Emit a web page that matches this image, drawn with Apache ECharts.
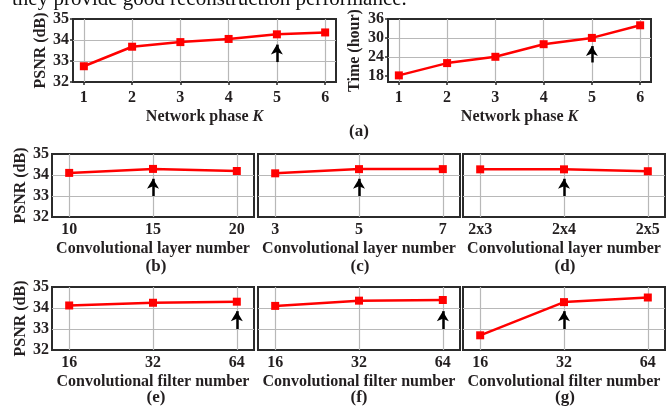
<!DOCTYPE html>
<html>
<head>
<meta charset="utf-8">
<script src="https://cdn.jsdelivr.net/npm/echarts@6/dist/echarts.min.js"></script>
<style>
html,body{margin:0;padding:0;background:#fff;}
#c{width:670px;height:408px;}
</style>
</head>
<body>
<div id="c"></div>
<script>
// ---- data ----
const phaseK = [1, 2, 3, 4, 5, 6];
const psnrPhase = [32.75, 33.68, 33.9, 34.05, 34.27, 34.36];
const timePhase = [18.1, 22.0, 24.0, 28.0, 30.0, 34.0];
const layerNumB = ['10', '15', '20'];
const psnrLayerB = [34.1, 34.29, 34.19];
const layerNumC = ['3', '5', '7'];
const psnrLayerC = [34.08, 34.28, 34.28];
const layerNumD = ['2x3', '2x4', '2x5'];
const psnrLayerD = [34.27, 34.27, 34.18];
const filterNum = ['16', '32', '64'];
const psnrFilterE = [34.12, 34.25, 34.3];
const psnrFilterF = [34.1, 34.35, 34.38];
const psnrFilterG = [32.7, 34.28, 34.5];
const psnrTicks = [32, 33, 34, 35];
const timeTicks = [18, 24, 30, 36];
// arrows: [x position (category index or K), from value, to value]
const arrowA1 = [5, 32.95, 33.78];
const arrowA2 = [5, 22.2, 27.4];
const arrowB = [1, 33.0, 33.82];
const arrowC = [1, 33.0, 33.82];
const arrowD = [1, 33.0, 33.82];
const arrowE = [2, 33.0, 33.85];
const arrowF = [2, 33.0, 33.85];
const arrowG = [1, 33.0, 33.85];
const subCaptions = ['(a)', '(b)', '(c)', '(d)', '(e)', '(f)', '(g)'];

const FONT = '"Liberation Serif", "Times New Roman", serif';
const TXT = '#231f20';
const FS = 16;

const chart = echarts.init(document.getElementById('c'), null, {renderer: 'canvas'});

const grids = [], xAxes = [], yAxes = [], series = [];

function addPanel(box, xVals, xLabels, yVals, yAxisCfg, xName, yName, arrow, opts) {
  const i = grids.length;
  grids.push({left: box[0], top: box[1], width: box[2], height: box[3], show: true,
    borderColor: '#2b2b2b', borderWidth: 2, backgroundColor: 'transparent', containLabel: false});
  const xmin = xVals[0] - opts.pad, xmax = xVals[xVals.length - 1] + opts.pad;
  xAxes.push({
    type: 'value', gridIndex: i, min: xmin, max: xmax,
    axisLine: {show: false},
    axisTick: {show: opts.ticks, length: 3, inside: false, customValues: xVals, lineStyle: {color: '#2b2b2b', width: 1.5}},
    axisLabel: {customValues: xVals, margin: opts.xMargin, fontFamily: FONT, fontWeight: 'bold', fontSize: FS, color: TXT,
      formatter: v => { const k = xVals.indexOf(v); return k >= 0 ? xLabels[k] : ''; }},
    splitLine: {show: true, lineStyle: {color: '#b8b8b8', width: 1.2}},
    name: xName, nameLocation: 'middle', nameGap: opts.xNameGap,
    nameTextStyle: {fontFamily: FONT, fontWeight: 'bold', fontSize: FS, color: TXT,
      rich: {i: {fontFamily: FONT, fontWeight: 'bold', fontStyle: 'italic', fontSize: FS, color: TXT}}}
  });
  yAxes.push(Object.assign({
    type: 'value', gridIndex: i,
    axisLine: {show: false},
    axisTick: {show: opts.ticks, length: 3, customValues: yAxisCfg.ticks, lineStyle: {color: '#2b2b2b', width: 1.5}},
    axisLabel: {show: yName !== null, customValues: yAxisCfg.ticks, margin: opts.yMargin, fontFamily: FONT, fontWeight: 'bold', fontSize: FS, color: TXT},
    splitLine: {show: true, showMinLine: false, showMaxLine: false, lineStyle: {color: '#b8b8b8', width: 1.2}},
    name: yName || '', nameLocation: 'middle', nameGap: opts.yNameGap, nameRotate: 90,
    nameTextStyle: {fontFamily: FONT, fontWeight: 'bold', fontSize: 16, color: TXT}
  }, {min: yAxisCfg.min, max: yAxisCfg.max}));
  series.push({
    type: 'line', xAxisIndex: i, yAxisIndex: i,
    data: xVals.map((x, k) => [x, yVals[k]]),
    symbol: 'rect', symbolSize: 8,
    lineStyle: {color: '#ff0000', width: 2.5},
    itemStyle: {color: '#ff0000'},
    animation: false, z: 3,
    markLine: {
      silent: true, animation: false, symbol: ['none', 'arrow'], symbolSize: [9, 10],
      label: {show: false},
      lineStyle: {color: '#000', width: 2.5, type: 'solid'},
      data: [[{coord: [arrow[0], arrow[1]]}, {coord: [arrow[0], arrow[2]]}]]
    }
  });
}

const idx3 = [0, 1, 2];
const psnrAxis = {min: 32, max: 35, ticks: psnrTicks};
const timeAxis = {min: 16, max: 36, ticks: timeTicks};
const topOpts = {pad: 0.225, ticks: true, xMargin: 8, xNameGap: 27, yMargin: 4, yNameGap: 20};
const midOpts = {pad: 0.205, ticks: false, xMargin: 5, xNameGap: 24, yMargin: 3, yNameGap: 22};

addPanel([73, 19, 263, 63], phaseK, phaseK.map(String), psnrPhase, psnrAxis, 'Network phase {i|K}', 'PSNR (dB)', arrowA1, topOpts);
addPanel([388, 19, 263, 63], phaseK, phaseK.map(String), timePhase, timeAxis, 'Network phase {i|K}', 'Time (hour)', arrowA2, Object.assign({}, topOpts, {yNameGap: 25}));

addPanel([52, 154, 202, 63], idx3, layerNumB, psnrLayerB, psnrAxis, 'Convolutional layer number', 'PSNR (dB)', arrowB, midOpts);
addPanel([258, 154, 202, 63], idx3, layerNumC, psnrLayerC, psnrAxis, 'Convolutional layer number', null, arrowC, midOpts);
addPanel([463, 154, 202, 63], idx3, layerNumD, psnrLayerD, psnrAxis, 'Convolutional layer number', null, arrowD, midOpts);

addPanel([52, 287, 202, 63], idx3, filterNum, psnrFilterE, psnrAxis, 'Convolutional filter number', 'PSNR (dB)', arrowE, midOpts);
addPanel([258, 287, 202, 63], idx3, filterNum, psnrFilterF, psnrAxis, 'Convolutional filter number', null, arrowF, midOpts);
addPanel([463, 287, 202, 63], idx3, filterNum, psnrFilterG, psnrAxis, 'Convolutional filter number', null, arrowG, midOpts);

const capPos = [[359, 132], [156, 267], [360, 267], [565, 267], [156, 398], [359, 398], [565, 398]];
const graphics = subCaptions.map((t, k) => ({
  type: 'text', x: capPos[k][0], y: capPos[k][1],
  style: {text: t, fontFamily: FONT, fontWeight: 'bold', fontSize: 17, fill: TXT, align: 'center', verticalAlign: 'middle'}
}));
graphics.push({
  type: 'text', x: 12, y: -1,
  style: {text: 'they provide good reconstruction performance.', fontFamily: FONT, fontSize: 21, fill: '#111', align: 'left', verticalAlign: 'middle'}
});

chart.setOption({
  animation: false,
  backgroundColor: '#fff',
  grid: grids, xAxis: xAxes, yAxis: yAxes, series: series,
  graphic: graphics
});
</script>
</body>
</html>
